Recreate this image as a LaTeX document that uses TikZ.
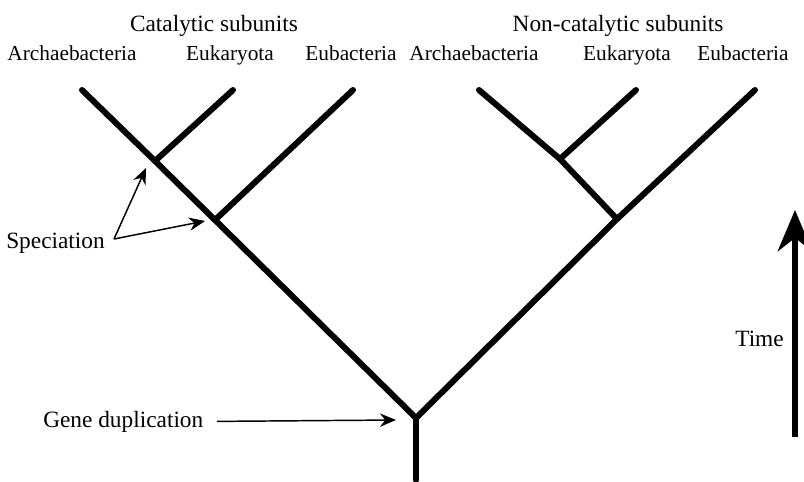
\documentclass[tikz,border=0pt]{standalone}
\usepackage{fontspec}
\setmainfont{Liberation Serif}
\usetikzlibrary{arrows.meta, positioning}
\tikzset{
branch/.style={line width=4.5pt, line cap=round, line join=round}, % thick lines of the tree
note/.style={font=\fontsize{17.5}{20}\selectfont, inner sep=0pt, anchor=base}, % headings and notes
taxon/.style={font=\fontsize{16}{19}\selectfont, inner sep=0pt, anchor=base}, % leaf names
pointer/.style={-{Stealth[length=12pt, width=10pt]}, line width=1.1pt}, % thin arrows to the nodes
timeline/.style={-{Stealth[length=31pt, width=26pt]}, line width=3.8pt}, % the time arrow
}

\begin{document}
\begin{tikzpicture}[x=0.75pt, y=-0.75pt]
    \useasboundingbox (0,0) rectangle (804,482);

    % Headings and leaves
    \node[note] (cat) at (214,31) {Catalytic subunits};
    \node[note] (noncat) at (618,31) {Non-catalytic subunits};
    \node[taxon] (cArch) at (72,60) {Archaebacteria};
    \node[taxon] (cEuk) at (230,60) {Eukaryota};
    \node[taxon] (cEub) at (351,60) {Eubacteria};
    \node[taxon] (nArch) at (474,60) {Archaebacteria};
    \node[taxon] (nEuk) at (627,60) {Eukaryota};
    \node[taxon] (nEub) at (743,60) {Eubacteria};

    % Tree
    \coordinate (base) at (416,480);
    \coordinate (root) at (416,418);
    \coordinate (cs1) at (215,220);
    \coordinate (cs2) at (155,161);
    \coordinate (ns1) at (617,219);
    \coordinate (ns2) at (560,159);
    \coordinate (ca) at (82,90);
    \coordinate (ck) at (233,90);
    \coordinate (ce) at (353,90);
    \coordinate (na) at (479,90);
    \coordinate (nk) at (636,90);
    \coordinate (ne) at (755,90);
    \draw[branch] (base) -- (root);
    \draw[branch] (root) -- (cs1) -- (cs2) -- (ca);
    \draw[branch] (cs2) -- (ck);
    \draw[branch] (cs1) -- (ce);
    \draw[branch] (root) -- (ns1) -- (ne);
    \draw[branch] (ns1) -- (ns2) -- (na);
    \draw[branch] (ns2) -- (nk);

    % Annotations
    \node[note, anchor=base west] (spec) at (6,248) {Speciation};
    \coordinate (sp) at (114,239);
    \draw[pointer] (sp) -- ([shift={(-9,7)}]cs2);
    \draw[pointer] (sp) -- ([shift={(-10,1)}]cs1);
    \node[note, anchor=base west] (gene) at (43,427) {Gene duplication};
    \draw[pointer] ([xshift=10pt]gene.east) -- ([shift={(-20,2)}]root);

    % Time axis
    \coordinate (tbot) at (795,437);
    \coordinate (ttop) at (795,210);
    \draw[timeline] (tbot) -- (ttop);
    \node[note, anchor=base east] (time) at (784,346) {Time};
\end{tikzpicture}
\end{document}
